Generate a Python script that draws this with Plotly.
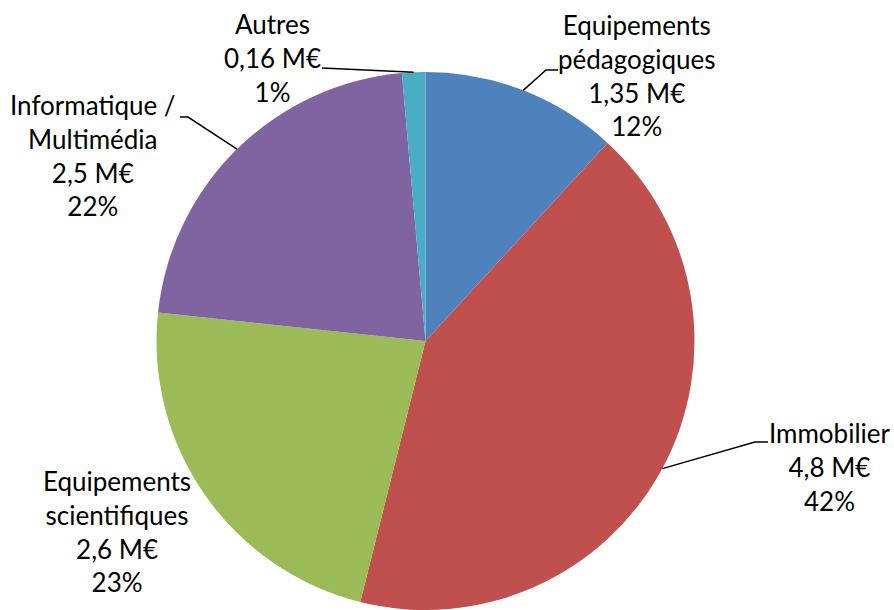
import math

import plotly.graph_objects as go

# data (millions of euros)
categories = [
    "Equipements<br>pédagogiques",
    "Immobilier",
    "Equipements<br>scientifiques",
    "Informatique /<br>Multimédia",
    "Autres",
]
values = [1.35, 4.8, 2.6, 2.5, 0.16]
value_labels = ["1,35", "4,8", "2,6", "2,5", "0,16"]
colors = ["#4F81BD", "#C0504D", "#9BBB59", "#8064A2", "#4BACC6"]

W, H = 894, 610
# pie geometry in pixels
cx, cy, r = 425.5, 341, 269

# label block centres and leader line elbows / ends (pixels)
label_pos = [(637, 75), (830, 467), (117, 531), (93, 156), (272, 58)]
leader_elbow = [(546, 70), (755, 442), None, (188, 117), (322, 68)]
leader_end = [(558, 70), (768, 442), None, (180, 117), (322, 68)]


def px(x):
    return x / W


def py(y):
    return 1 - y / H


fig = go.Figure(
    go.Pie(
        labels=categories,
        values=values,
        sort=False,
        direction="clockwise",
        rotation=0,
        textinfo="none",
        hoverinfo="label+value+percent",
        marker=dict(colors=colors, line=dict(width=0)),
        domain=dict(x=[px(cx - r), px(cx + r)], y=[py(cy + r), py(cy - r)]),
        showlegend=False,
    )
)

total = sum(values)
cum = 0
for i, v in enumerate(values):
    mid = (cum + v / 2) / total * 2 * math.pi
    cum += v
    pct = round(v / total * 100)
    fig.add_annotation(
        x=px(label_pos[i][0]),
        y=py(label_pos[i][1]),
        xref="paper",
        yref="paper",
        text=f"{categories[i]}<br>{value_labels[i]} M€<br>{pct}%",
        showarrow=False,
        align="center",
        xanchor="center",
        yanchor="middle",
        font=dict(family="Lato", size=26, color="#000000"),
    )
    if leader_elbow[i] is None:
        continue
    ax = cx + r * math.sin(mid)
    ay = cy - r * math.cos(mid)
    ex, ey = leader_elbow[i]
    tx, ty = leader_end[i]
    fig.add_shape(
        type="path",
        xref="paper",
        yref="paper",
        path=f"M {px(ax)} {py(ay)} L {px(ex)} {py(ey)} L {px(tx)} {py(ty)}",
        line=dict(color="#000000", width=1.5),
    )

fig.update_layout(
    width=W,
    height=H,
    margin=dict(l=0, r=0, t=0, b=0),
    paper_bgcolor="white",
    plot_bgcolor="white",
)

# drop the default page margin so the figure sits at the window's top-left
fig.write_html(
    "out.html",
    config={"displayModeBar": False},
    post_script="document.body.style.margin='0';",
)
